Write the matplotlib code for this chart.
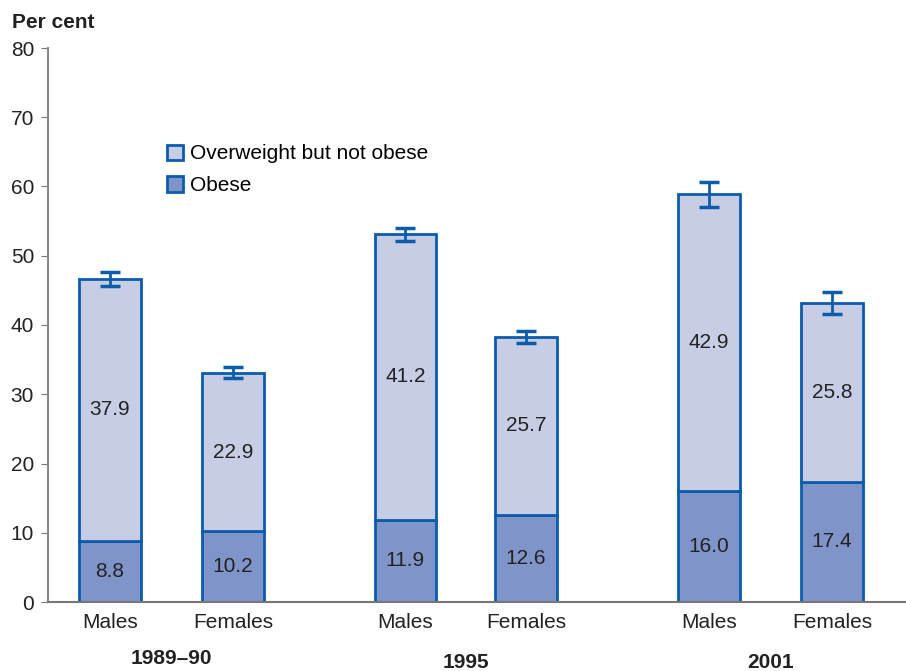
import matplotlib
matplotlib.use('Agg')
import matplotlib.pyplot as plt  # noqa E402
from matplotlib.patches import Patch  # noqa E402

plt.rcParams['font.family'] = ['Liberation Sans', 'DejaVu Sans']

# Data
sexes = ["Males", "Females", "Males", "Females", "Males", "Females"]
years = ["1989\u201390", "1995", "2001"]
obese = [8.8, 10.2, 11.9, 12.6, 16.0, 17.4]
overweight = [37.9, 22.9, 41.2, 25.7, 42.9, 25.8]
total_err = [1.0, 0.8, 0.9, 0.9, 1.8, 1.6]

# Layout
pos = [0.0, 1.0, 2.4, 3.38, 4.87, 5.87]
width = 0.5
light = "#C8CDE6"
dark = "#7F94C8"
edge = "#0B5CAB"
fs = 15

fig = plt.figure(figsize=(9.06, 6.71), dpi=100)
ax = fig.add_axes([48 / 906, 1 - 602 / 671, 858 / 906, 554 / 671])

ax.bar(pos, obese, width, color=dark, edgecolor=edge, linewidth=2,
       label="Obese", zorder=2)
ax.bar(pos, overweight, width, bottom=obese, color=light, edgecolor=edge,
       linewidth=2, label="Overweight but not obese", zorder=2)
totals = [a + b for a, b in zip(obese, overweight)]
ax.errorbar(pos, totals, yerr=total_err, fmt="none", ecolor=edge,
            elinewidth=2, capsize=7, capthick=2.5, zorder=3)

# Value labels in the middle of each segment
for x, o, w in zip(pos, obese, overweight):
    ax.text(x, o / 2, "%.1f" % o, ha="center", va="center",
            fontsize=fs, color="#222222", zorder=4)
    ax.text(x, o + w / 2, "%.1f" % w, ha="center", va="center",
            fontsize=fs, color="#222222", zorder=4)

ax.set_xlim(-0.504, 6.47)
ax.set_ylim(0, 80)
ax.set_yticks(range(0, 81, 10))
ax.tick_params(axis="y", labelsize=fs, length=5, color="#777777",
               labelcolor="#222222", pad=5)
ax.set_xticks(pos)
ax.set_xticklabels(sexes, fontsize=fs, color="#222222")
ax.tick_params(axis="x", length=0, pad=8)
for s in ["top", "right"]:
    ax.spines[s].set_visible(False)
ax.spines["left"].set_color("#888888")
ax.spines["left"].set_linewidth(1.5)
ax.spines["bottom"].set_color("#777777")
ax.spines["bottom"].set_linewidth(1.5)

# Year group labels
group_x = [(pos[0] + pos[1]) / 2, (pos[2] + pos[3]) / 2, (pos[4] + pos[5]) / 2]
group_y = [659, 662, 662]
for gx, gy, yr in zip(group_x, group_y, years):
    ax.text(gx, -(gy - 602) / 554, yr, transform=ax.get_xaxis_transform(),
            ha="center", va="center", fontsize=fs, fontweight="bold",
            color="#222222")

fig.text(12 / 906, 1 - 22 / 671, "Per cent", fontsize=fs,
         fontweight="bold", va="center", color="#222222")

handles = [Patch(facecolor=light, edgecolor=edge, linewidth=2),
           Patch(facecolor=dark, edgecolor=edge, linewidth=2)]
ax.legend(handles, ["Overweight but not obese", "Obese"],
          loc="upper left", bbox_to_anchor=(109 / 858, 1 - 86 / 554),
          frameon=False, fontsize=fs, handlelength=0.75, handleheight=0.75,
          handletextpad=0.35, labelspacing=0.62, borderpad=0)

fig.savefig("out.png", dpi=100)
